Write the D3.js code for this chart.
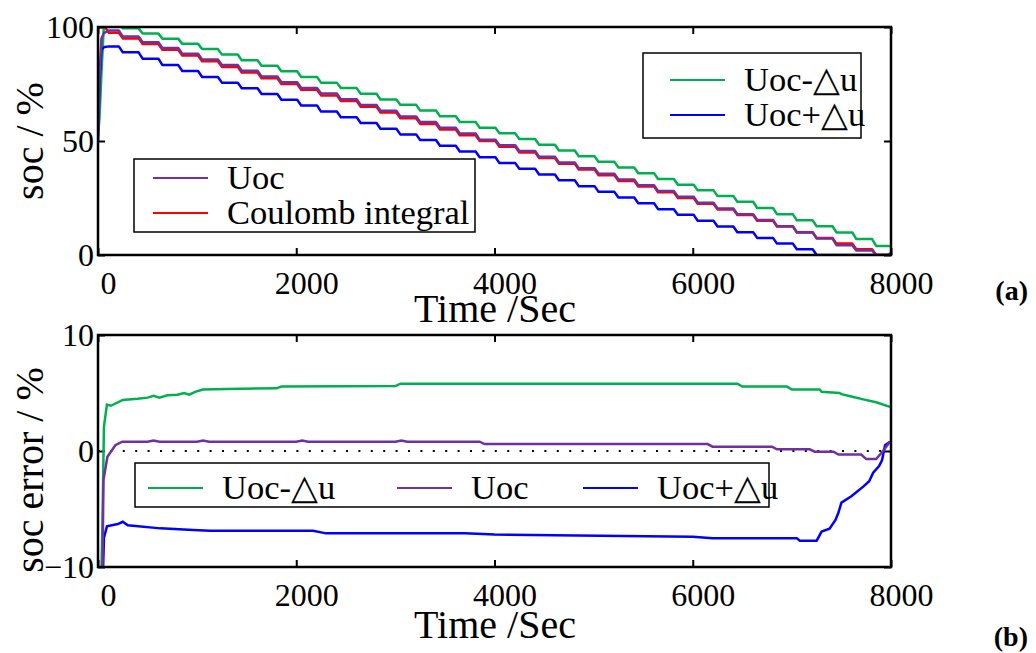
<!DOCTYPE html>
<html><head><meta charset="utf-8">
<script src="https://cdn.jsdelivr.net/npm/d3@7"></script>
<style>body{margin:0;background:#fff} text{font-family:"Liberation Serif","Times New Roman",serif}</style>
</head><body>
<svg id="c" width="1036" height="653"></svg>
<script>
// ---------- data ----------
const xTicks = [0, 2000, 4000, 6000, 8000];
const yTicksA = [0, 50, 100];
const yTicksB = [-10, 0, 10];

// panel (a): step times (s) and SOC values (%)
const topTime = [0, 15, 35, 60, 110, 250, 450, 650, 850, 1050, 1250, 1450, 1650, 1850, 2050, 2250, 2450, 2650, 2850, 3050, 3250, 3450, 3650, 3850, 4050, 4250, 4450, 4650, 4850, 5050, 5250, 5450, 5650, 5850, 6050, 6250, 6450, 6650, 6850, 7050, 7250, 7450, 7650, 7850, 8000];
const socCoulomb = [100, 100, 100, 100, 97.5, 95, 92.5, 90, 87.5, 85, 82.5, 80, 77.5, 75, 72.5, 70, 67.5, 65, 62.5, 60, 57.5, 55, 52.5, 50, 47.5, 45, 42.5, 40, 37.5, 35, 32.5, 30, 27.5, 25, 22.5, 20, 17.5, 15, 12.5, 10, 7.5, 5, 2.5, 0, 0];
const socUoc = [50, 78, 95, 97.5, 98.5, 95.8, 93.3, 90.8, 88.3, 85.8, 83.3, 80.8, 78.3, 75.8, 73.3, 70.8, 68.3, 65.8, 63.3, 60.8, 58.3, 55.8, 53.3, 50.6, 48.1, 45.6, 43.1, 40.6, 38.1, 35.6, 33.1, 30.6, 28.1, 25.6, 22.9, 20.4, 17.9, 15.4, 12.65, 9.9, 7.2, 4.3, 2.0, 0.0, 0.8];
const socUocMinus = [52, 60, 80, 101.5, 102, 99.4, 97.1, 94.9, 92.6, 90.3, 87.9, 85.45, 83.0, 80.55, 78.1, 75.6, 73.2, 70.7, 68.2, 65.85, 63.35, 60.85, 58.35, 55.85, 53.35, 50.85, 48.35, 45.85, 43.35, 40.85, 38.35, 35.85, 33.35, 30.85, 28.35, 25.85, 23.35, 20.6, 17.9, 15.2, 12.6, 9.9, 7.0, 4.0, 3.8];
const socUocPlus = [50, 75, 90, 91.2, 91.5, 88.9, 86.1, 83.3, 80.7, 78.1, 75.6, 73.1, 70.6, 68.1, 65.6, 62.9, 60.4, 57.9, 55.4, 52.9, 50.4, 47.9, 45.4, 42.9, 40.3, 37.8, 35.3, 32.8, 30.2, 27.7, 25.2, 22.7, 20.1, 17.6, 15.0, 12.5, 10.0, 7.5, 5.0, 2.5, 0, 0, 0, 0, 0];

// panel (b): SOC error (%)
const errMinusT = [0, 35, 45, 60, 90, 130, 250, 400, 500, 560, 620, 700, 800, 870, 920, 980, 1060, 1300, 1800, 1850, 3000, 3050, 6450, 6500, 6950, 7000, 7280, 7300, 7480, 7500, 7600, 7720, 7850, 7990];
const errMinusV = [-10.5, -10.5, -6.2, 2.1, 4.0, 3.9, 4.4, 4.5, 4.6, 4.75, 4.6, 4.8, 4.85, 5.0, 4.85, 5.1, 5.3, 5.35, 5.4, 5.55, 5.6, 5.8, 5.8, 5.55, 5.55, 5.3, 5.3, 5.1, 5.0, 4.9, 4.7, 4.45, 4.2, 3.8];
const errUocT = [0, 45, 55, 95, 175, 245, 500, 560, 620, 1000, 1060, 1120, 2000, 2060, 2120, 3000, 3060, 3120, 3850, 3900, 6150, 6200, 6800, 6850, 7180, 7230, 7420, 7470, 7700, 7750, 7850, 7920, 7990];
const errUocV = [-10.5, -10.5, -2.5, -0.5, 0.5, 0.8, 0.8, 0.9, 0.8, 0.8, 0.9, 0.8, 0.8, 0.9, 0.8, 0.8, 0.9, 0.8, 0.8, 0.6, 0.6, 0.37, 0.37, 0.15, 0.15, -0.06, -0.06, -0.3, -0.3, -0.7, -0.7, 0.0, 0.8];
const errPlusT = [0, 50, 60, 90, 200, 250, 300, 630, 960, 1130, 2170, 2300, 3700, 4000, 6000, 6200, 7050, 7080, 7250, 7300, 7380, 7440, 7470, 7500, 7600, 7720, 7780, 7820, 7880, 7910, 7940, 7990];
const errPlusV = [-10.5, -10.5, -7.5, -6.5, -6.3, -6.1, -6.4, -6.67, -6.8, -6.87, -6.87, -7.1, -7.1, -7.2, -7.4, -7.53, -7.53, -7.73, -7.73, -6.95, -6.7, -5.95, -5.3, -4.45, -3.9, -3.07, -2.6, -1.87, -1.3, -0.78, 0.5, 0.8];

// ---------- drawing ----------
const C = {green: "#00b050", purple: "#7030a0", red: "#ff0000", blue: "#0000ff"};
const svg = d3.select("#c");
const L = 98, R = 891;
const FS = 32;     // tick labels
const FT = 40;     // axis titles

// step curve whose risers are slightly slanted (as in the original staircase)
function curveSlantStep(ctx) {
  let prev = null;
  return {
    areaStart() {}, areaEnd() {},
    lineStart() { prev = null; },
    lineEnd() {},
    point(x, y) {
      if (!prev) ctx.moveTo(x, y);
      else { ctx.lineTo(Math.max(prev[0], x - 4), prev[1]); ctx.lineTo(x, y); }
      prev = [x, y];
    }
  };
}

function panel(id, yDomain, yRange, yTicks, xLabBase, titleBase, yTitle, yTitleY) {
  const x = d3.scaleLinear([0, 8000], [L, R]);
  const y = d3.scaleLinear(yDomain, yRange);
  const g = svg.append("g");
  g.append("clipPath").attr("id", id).append("rect")
    .attr("x", L).attr("y", yRange[1]).attr("width", R - L).attr("height", yRange[0] - yRange[1]);
  const ax = g.append("g").attr("transform", `translate(0,${yRange[0]})`)
    .call(d3.axisBottom(x).tickValues(xTicks).tickFormat(d3.format("d")).tickSizeInner(-7).tickSizeOuter(0).tickPadding(xLabBase - yRange[0]));
  ax.select(".domain").remove();
  ax.selectAll("text").attr("dy", null).attr("font-size", FS).attr("font-family", "Liberation Serif, serif")
    .attr("dx", 10);
  ax.selectAll("line").attr("stroke-width", 2);
  const axT = g.append("g").attr("transform", `translate(0,${yRange[1]})`)
    .call(d3.axisTop(x).tickValues(xTicks).tickFormat("").tickSizeInner(-7).tickSizeOuter(0));
  axT.select(".domain").remove();
  axT.selectAll("line").attr("stroke-width", 2);
  const ay = g.append("g").attr("transform", `translate(${L},0)`)
    .call(d3.axisLeft(y).tickValues(yTicks).tickFormat(d3.format("d")).tickSizeInner(-7).tickSizeOuter(0).tickPadding(4));
  ay.select(".domain").remove();
  ay.selectAll("text").attr("font-size", FS).attr("font-family", "Liberation Serif, serif").attr("dy", "0.34em");
  ay.selectAll("line").attr("stroke-width", 2);
  const ayR = g.append("g").attr("transform", `translate(${R},0)`)
    .call(d3.axisRight(y).tickValues(yTicks).tickFormat("").tickSizeInner(-7).tickSizeOuter(0));
  ayR.select(".domain").remove();
  ayR.selectAll("line").attr("stroke-width", 2);
  g.append("text").attr("x", 495).attr("y", titleBase).attr("text-anchor", "middle")
    .attr("font-size", FT).text("Time /Sec");
  g.append("text").attr("transform", `translate(43,${yTitleY}) rotate(-90)`).attr("text-anchor", "middle")
    .attr("font-size", FT).text(yTitle);
  const plot = g.append("g").attr("clip-path", `url(#${id})`);
  return {x, y, g, plot};
}

// panel (a)
const A = panel("clipA", [0, 100], [255, 27], yTicksA, 294, 322, "soc / %", 141);
const stepLine = d3.line().x(d => A.x(d[0])).y(d => A.y(d[1])).curve(curveSlantStep);
[[socUocMinus, C.green], [socUocPlus, C.blue], [socCoulomb, C.red], [socUoc, C.purple]].forEach(([vals, col]) => {
  A.plot.append("path").datum(topTime.map((t, i) => [t, vals[i]]))
    .attr("d", stepLine).attr("fill", "none").attr("stroke", col).attr("stroke-width", 2.5)
    .attr("stroke-linejoin", "round");
});
A.g.append("rect").attr("x", L).attr("y", 27).attr("width", R - L).attr("height", 228)
  .attr("fill", "none").attr("stroke", "#000").attr("stroke-width", 2.5);

// panel (b)
const B = panel("clipB", [-10, 10], [567, 335], yTicksB, 606, 638, "soc error / %", 470);
B.plot.append("line").attr("x1", L).attr("x2", R).attr("y1", B.y(0)).attr("y2", B.y(0))
  .attr("stroke", "#000").attr("stroke-width", 2).attr("stroke-dasharray", "2,10.4");
const lin = d3.line().x(d => B.x(d[0])).y(d => B.y(d[1]));
[[errMinusT, errMinusV, C.green], [errPlusT, errPlusV, C.blue], [errUocT, errUocV, C.purple]].forEach(([ts, vs, col]) => {
  B.plot.append("path").datum(ts.map((t, i) => [t, vs[i]]))
    .attr("d", lin).attr("fill", "none").attr("stroke", col).attr("stroke-width", 2.5);
});
B.g.append("rect").attr("x", L).attr("y", 335).attr("width", R - L).attr("height", 232)
  .attr("fill", "none").attr("stroke", "#000").attr("stroke-width", 2.5);

// legends
function legend(box, items) {
  const g = svg.append("g");
  g.append("rect").attr("x", box[0]).attr("y", box[1]).attr("width", box[2]).attr("height", box[3])
    .attr("fill", "#fff").attr("stroke", "#000").attr("stroke-width", 1.5);
  items.forEach(it => {
    g.append("line").attr("x1", it.x).attr("x2", it.x + 55).attr("y1", it.y).attr("y2", it.y)
      .attr("stroke", it.c).attr("stroke-width", 2);
    g.append("text").attr("x", it.x + 74).attr("y", it.y + 11).attr("font-size", 34.5).text(it.t);
  });
}
legend([643, 53, 218, 85], [
  {x: 670, y: 80, c: C.green, t: "Uoc-△u"},
  {x: 670, y: 115, c: C.blue, t: "Uoc+△u"}]);
legend([134, 159, 341, 73], [
  {x: 153, y: 178, c: C.purple, t: "Uoc"},
  {x: 153, y: 213, c: C.red, t: "Coulomb integral"}]);
legend([135, 463, 634, 44], [
  {x: 148, y: 488, c: C.green, t: "Uoc-△u"},
  {x: 397, y: 488, c: C.purple, t: "Uoc"},
  {x: 583, y: 488, c: C.blue, t: "Uoc+△u"}]);

// panel tags
svg.append("text").attr("x", 1028).attr("y", 300).attr("text-anchor", "end")
  .attr("font-size", 28).attr("font-weight", "bold").text("(a)");
svg.append("text").attr("x", 1028).attr("y", 646).attr("text-anchor", "end")
  .attr("font-size", 28).attr("font-weight", "bold").text("(b)");
</script></body></html>
